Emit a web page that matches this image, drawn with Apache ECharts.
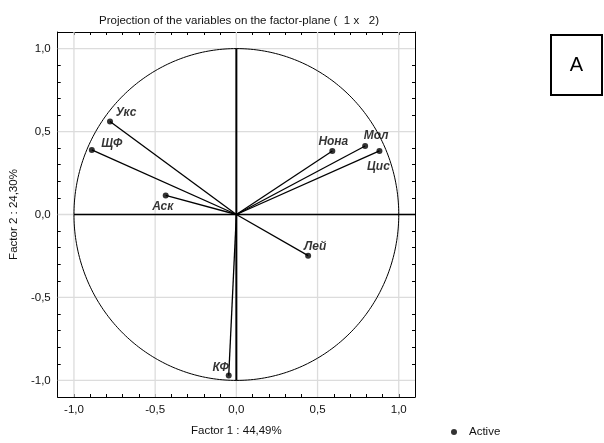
<!DOCTYPE html>
<html><head><meta charset="utf-8">
<script src="https://cdn.jsdelivr.net/npm/echarts@6/dist/echarts.min.js"></script>
<style>html,body{margin:0;padding:0;background:#fff}#c{width:604px;height:443px}</style>
</head><body><div id="c"></div>
<script>
// ---- data ----
const names = ['Укс', 'ЩФ', 'Аск', 'Нона', 'Мол', 'Цис', 'Лей', 'КФ'];
const factor1 = [-0.778, -0.890, -0.435, 0.591, 0.793, 0.881, 0.442, -0.047];
const factor2 = [0.560, 0.389, 0.115, 0.383, 0.413, 0.383, -0.248, -0.971];
const tickValues = [-1.0, -0.5, 0.0, 0.5, 1.0];
const titleText = 'Projection of the variables on the factor-plane (  1 x   2)';
const xName = 'Factor 1 : 44,49%';
const yName = 'Factor 2 : 24,30%';
const legendName = 'Active';
const panelLetter = 'A';

// ---- styling (label offsets in px relative to point) ----
const labelOffsets = [[16, -9], [20, -6], [-3, 11], [1, -9], [11, -10], [-1, 16], [7, -9], [-8, -8]];
const FONT = '"Liberation Sans", Arial, sans-serif';
const minorTicks = [];
for (let k = -11; k <= 11; k++) minorTicks.push(k / 10);
const fmt = v => v.toFixed(1).replace('.', ',');

const points = names.map((n, i) => ({
  name: n,
  value: [factor1[i], factor2[i]],
  label: { offset: labelOffsets[i] }
}));

function axisCommon(pos, showLabel) {
  return {
    type: 'value', min: -1.1, max: 1.1, position: pos,
    axisLine: { show: true, onZero: false, lineStyle: { color: '#000', width: 1 } },
    axisTick: { show: true, inside: true, length: 3, customValues: minorTicks, lineStyle: { color: '#000', width: 1 } },
    axisLabel: { show: showLabel, customValues: tickValues, formatter: fmt, color: '#111', fontSize: 11.5, fontFamily: FONT, margin: 7 },
    splitLine: { show: false }
  };
}

const chart = echarts.init(document.getElementById('c'), null, { renderer: 'canvas' });
chart.setOption({
  animation: false,
  backgroundColor: '#fff',
  title: {
    text: titleText, left: 234, top: 10, textAlign: 'center',
    textStyle: { fontSize: 11.5, fontWeight: 'normal', color: '#111', fontFamily: FONT }
  },
  grid: { left: 56, right: 189, top: 32, bottom: 46, containLabel: false },
  xAxis: [
    Object.assign(axisCommon('bottom', true), {
      name: xName, nameLocation: 'middle', nameGap: 28,
      nameTextStyle: { fontSize: 11.5, color: '#111', fontFamily: FONT }
    }),
    axisCommon('top', false)
  ],
  yAxis: [
    Object.assign(axisCommon('left', true), {
      name: yName, nameLocation: 'middle', nameGap: 36,
      nameTextStyle: { fontSize: 11.5, color: '#111', fontFamily: FONT }
    }),
    axisCommon('right', false)
  ],
  legend: {
    data: [legendName], left: 446, top: 421, icon: 'circle',
    itemWidth: 20, itemHeight: 6, itemGap: 0,
    textStyle: { fontSize: 11.5, color: '#111', fontFamily: FONT }
  },
  graphic: [
    { type: 'rect', shape: { x: 551, y: 35, width: 51, height: 60 }, style: { fill: '#fff', stroke: '#000', lineWidth: 2 } },
    { type: 'text', x: 576.5, y: 65, style: { text: panelLetter, font: '20px ' + FONT, fill: '#000', align: 'center', verticalAlign: 'middle' } }
  ],
  series: [
    {
      // light grid lines at the labelled ticks
      type: 'custom', z: 1, silent: true, data: [[0, 0]],
      renderItem: (params, api) => {
        const children = [];
        tickValues.forEach(v => {
          const a = api.coord([v, -1.1]), b = api.coord([v, 1.1]);
          children.push({ type: 'line', shape: { x1: a[0], y1: a[1], x2: b[0], y2: b[1] }, style: { stroke: '#dcdcdc', lineWidth: 1.3 } });
          const c = api.coord([-1.1, v]), d = api.coord([1.1, v]);
          children.push({ type: 'line', shape: { x1: c[0], y1: c[1], x2: d[0], y2: d[1] }, style: { stroke: '#dcdcdc', lineWidth: 1.3 } });
        });
        return { type: 'group', children };
      }
    },
    {
      // unit correlation circle and the two axes through the origin
      type: 'custom', z: 2, silent: true, data: [[0, 0]],
      renderItem: (params, api) => {
        const pts = [];
        for (let k = 0; k <= 360; k++) {
          const t = k * Math.PI / 180;
          pts.push(api.coord([Math.cos(t), Math.sin(t)]));
        }
        const v1 = api.coord([0, -1]), v2 = api.coord([0, 1]);
        const h1 = api.coord([-1, 0]), h2 = api.coord([1.1, 0]);
        return {
          type: 'group', children: [
            { type: 'polyline', shape: { points: pts }, style: { stroke: '#000', lineWidth: 1, fill: null } },
            { type: 'line', shape: { x1: v1[0], y1: v1[1], x2: v2[0], y2: v2[1] }, style: { stroke: '#000', lineWidth: 2 } },
            { type: 'line', shape: { x1: h1[0], y1: h1[1], x2: h2[0], y2: h2[1] }, style: { stroke: '#000', lineWidth: 1.5 } }
          ]
        };
      }
    },
    {
      type: 'custom', z: 3, silent: true,
      data: names.map((n, i) => [factor1[i], factor2[i]]),
      renderItem: (params, api) => {
        const o = api.coord([0, 0]);
        const p = api.coord([api.value(0), api.value(1)]);
        return { type: 'line', shape: { x1: o[0], y1: o[1], x2: p[0], y2: p[1] }, style: { stroke: '#000', lineWidth: 1.3 } };
      }
    },
    {
      name: legendName, type: 'scatter', z: 4, symbol: 'circle', symbolSize: 6,
      itemStyle: { color: '#000' },
      label: {
        show: true, position: 'inside', formatter: '{b}', color: '#000',
        fontSize: 12, fontWeight: 'bold', fontStyle: 'italic', fontFamily: FONT,
        align: 'center', verticalAlign: 'middle'
      },
      data: points
    }
  ]
});
</script>
</body></html>
